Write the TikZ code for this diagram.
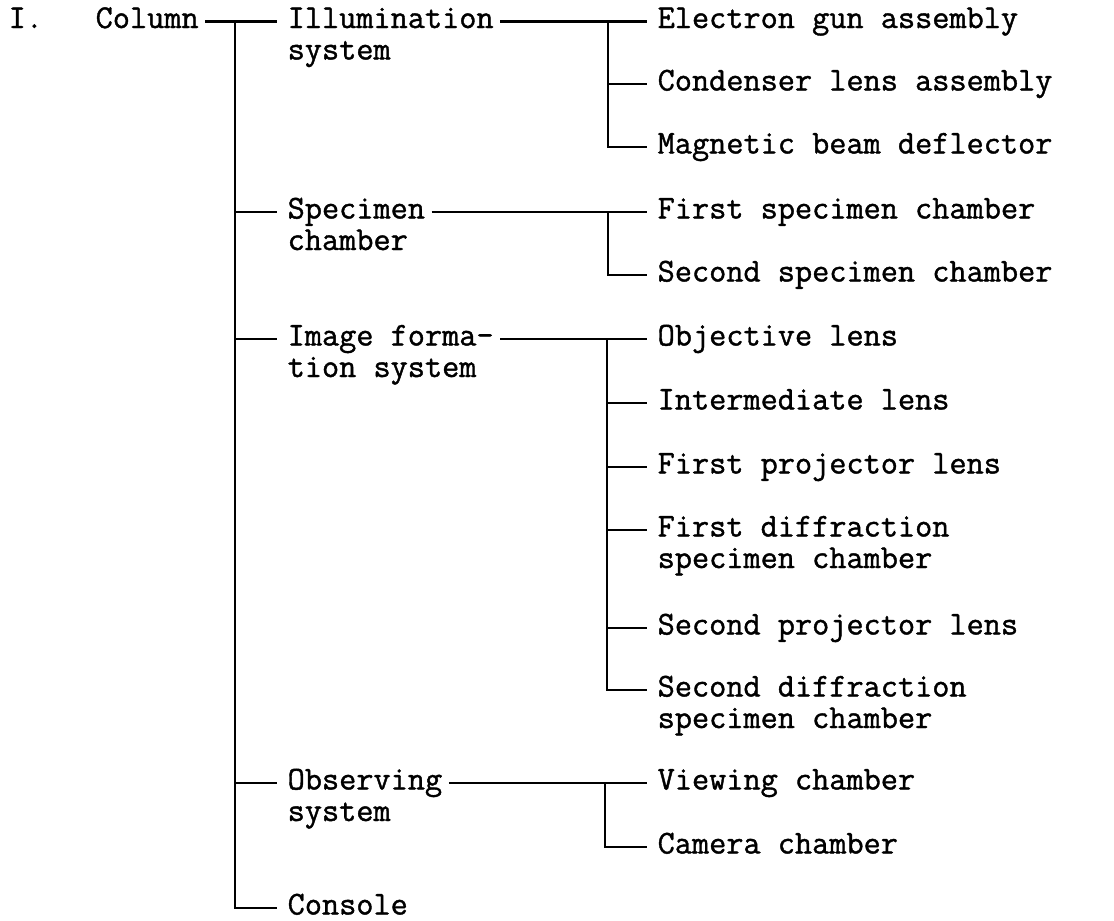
\documentclass[tikz,border=0pt]{standalone}
\usepackage{fontspec}
\setmonofont{Latin Modern Mono}[FakeBold=1.2]
\usepackage{tikz}
\usetikzlibrary{calc}
\tikzset{lbl/.style={anchor=base west,align=left,inner xsep=4pt,inner ysep=0pt}}
\tikzset{twig/.style={shorten >=3pt}}

\begin{document}
\begin{tikzpicture}[x=0.025cm,y=-0.025cm,font=\ttfamily\fontsize{23.7}{22.4}\selectfont,line width=1.5pt]
	\useasboundingbox (0,0) rectangle (1114,921);
	% first level
	\node[lbl] (num) at (2,28) {I.};
	\node[lbl] (col) at (89,28) {Column};
	% second level (two-line labels sit on their last line)
	\node[lbl] (illum) at (281,59.5) {Illumination\\system};
	\node[lbl] (spec) at (281,250) {Specimen\\chamber};
	\node[lbl] (image) at (281,377) {Image forma-\\tion system};
	\node[lbl] (obs) at (281,821) {Observing\\system};
	\node[lbl] (cons) at (281,914.5) {Console};
	% third level
	\node[lbl] (elec) at (651,28) {Electron gun assembly};
	\node[lbl] (cond) at (651,90.5) {Condenser lens assembly};
	\node[lbl] (magn) at (651,153.5) {Magnetic beam deflector};
	\node[lbl] (spec1) at (651,218.5) {First specimen chamber};
	\node[lbl] (spec2) at (651,281.5) {Second specimen chamber};
	\node[lbl] (obj) at (651,345.5) {Objective lens};
	\node[lbl] (inter) at (651,409.5) {Intermediate lens};
	\node[lbl] (proj1) at (651,473.5) {First projector lens};
	\node[lbl] (diff1) at (651,568) {First diffraction\\specimen chamber};
	\node[lbl] (proj2) at (651,634.5) {Second projector lens};
	\node[lbl] (diff2) at (651,728) {Second diffraction\\specimen chamber};
	\node[lbl] (view) at (651,789.5) {Viewing chamber};
	\node[lbl] (cam) at (651,853.5) {Camera chamber};
	% junctions on the trunk
	\coordinate (t0) at (235,21.5);
	\coordinate (t1) at (235,212);
	\coordinate (t2) at (235,339);
	\coordinate (t3) at (235,783);
	\coordinate (t4) at (235,908);
	% junctions on the sub-branches
	\coordinate (a0) at (608,21.5);
	\coordinate (a1) at (608,84);
	\coordinate (a2) at (608,147);
	\coordinate (b0) at (608,212);
	\coordinate (b1) at (608,275);
	\coordinate (c0) at (607,339);
	\coordinate (c1) at (607,403);
	\coordinate (c2) at (607,467);
	\coordinate (c3) at (607,530);
	\coordinate (c4) at (607,628);
	\coordinate (c5) at (607,690);
	\coordinate (d0) at (605,783);
	\coordinate (d1) at (605,847);
	% trunk
	\draw[twig] (col.east |- t0) -- (illum.west |- t0);
	\draw[twig] (t0) -- (t4) -- (cons.west |- t4);
	\draw[twig] (t1) -- (spec.west |- t1);
	\draw[twig] (t2) -- (image.west |- t2);
	\draw[twig] (t3) -- (obs.west |- t3);
	% illumination system
	\draw[twig] (illum.east |- a0) -- (elec.west |- a0);
	\draw[twig] (a0) -- (a2) -- (magn.west |- a2);
	\draw[twig] (a1) -- (cond.west |- a1);
	% specimen chamber
	\draw[twig] (spec.east |- b0) -- (spec1.west |- b0);
	\draw[twig] (b0) -- (b1) -- (spec2.west |- b1);
	% image formation system
	\draw[twig] (image.east |- c0) -- (obj.west |- c0);
	\draw[twig] (c0) -- (c5) -- (diff2.west |- c5);
	\draw[twig] (c1) -- (inter.west |- c1);
	\draw[twig] (c2) -- (proj1.west |- c2);
	\draw[twig] (c3) -- (diff1.west |- c3);
	\draw[twig] (c4) -- (proj2.west |- c4);
	% observing system
	\draw[twig] (obs.east |- d0) -- (view.west |- d0);
	\draw[twig] (d0) -- (d1) -- (cam.west |- d1);
\end{tikzpicture}
\end{document}
